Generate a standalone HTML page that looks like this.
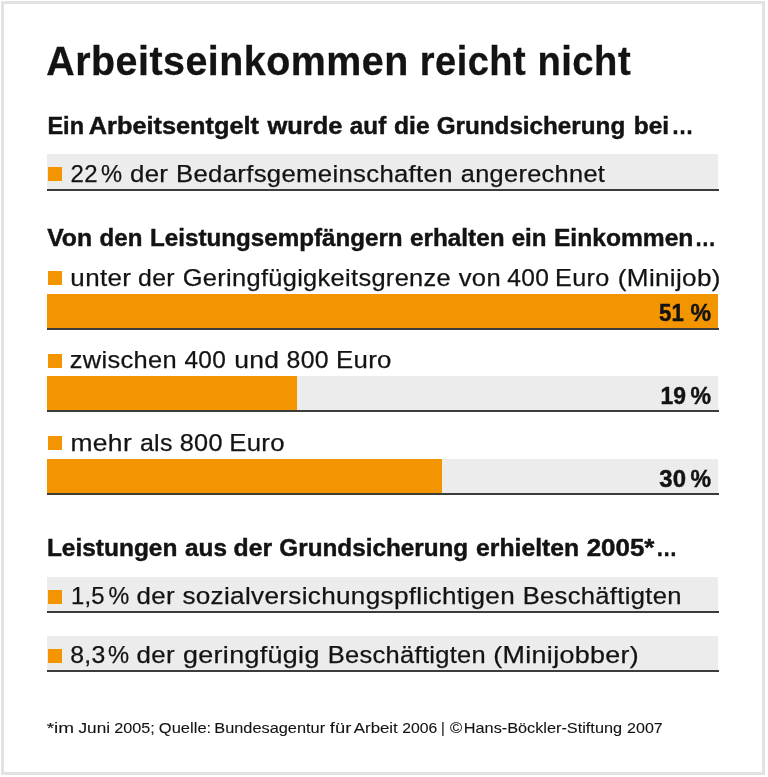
<!DOCTYPE html>
<html><head><meta charset="utf-8"><style>html,body{margin:0;padding:0;background:#fff;}body{width:768px;height:777px;overflow:hidden;}svg{display:block;will-change:transform;}text{font-family:"Liberation Sans",sans-serif;fill:#131313;color:#131313;}</style></head><body>

<svg width="768" height="777" viewBox="0 0 768 777">
<rect x="2.5" y="2.5" width="761" height="771" fill="none" stroke="#e3e3e3" stroke-width="3"/>
<rect x="47" y="154" width="671" height="35" fill="#ececec"/>
<rect x="47" y="189" width="672" height="2" fill="#3c3c3b"/>
<rect x="47" y="294" width="671" height="34" fill="#ececec"/>
<rect x="47" y="294" width="671" height="34" fill="#f39500"/>
<rect x="47" y="328" width="672" height="2" fill="#3c3c3b"/>
<rect x="47" y="376" width="671" height="34" fill="#ececec"/>
<rect x="47" y="376" width="250" height="34" fill="#f39500"/>
<rect x="47" y="410" width="672" height="2" fill="#3c3c3b"/>
<rect x="47" y="459" width="671" height="34" fill="#ececec"/>
<rect x="47" y="459" width="395" height="34" fill="#f39500"/>
<rect x="47" y="493" width="672" height="2" fill="#3c3c3b"/>
<rect x="47" y="577" width="671" height="34" fill="#ececec"/>
<rect x="47" y="611" width="672" height="2" fill="#3c3c3b"/>
<rect x="47" y="636" width="671" height="34" fill="#ececec"/>
<rect x="47" y="670" width="672" height="2" fill="#3c3c3b"/>
<rect x="48" y="167" width="14" height="14" fill="#f39500"/>
<rect x="48" y="271" width="14" height="14" fill="#f39500"/>
<rect x="48" y="354" width="14" height="14" fill="#f39500"/>
<rect x="48" y="436" width="14" height="14" fill="#f39500"/>
<rect x="48" y="590" width="14" height="14" fill="#f39500"/>
<rect x="48" y="649" width="14" height="14" fill="#f39500"/>
<text x="46.28" y="75.00" font-size="41" font-weight="bold" letter-spacing="0.5" stroke="currentColor" stroke-width="0.3" textLength="362.50" lengthAdjust="spacingAndGlyphs">Arbeitseinkommen</text>
<text x="419.82" y="75.00" font-size="41" font-weight="bold" letter-spacing="0.5" stroke="currentColor" stroke-width="0.3" textLength="106.25" lengthAdjust="spacingAndGlyphs">reicht</text>
<text x="537.49" y="75.00" font-size="41" font-weight="bold" letter-spacing="0.5" stroke="currentColor" stroke-width="0.3" textLength="93.59" lengthAdjust="spacingAndGlyphs">nicht</text>
<text x="47.46" y="133.80" font-size="24.5" font-weight="bold" stroke="currentColor" stroke-width="0.45" textLength="36.52" lengthAdjust="spacingAndGlyphs">Ein</text>
<text x="88.83" y="133.80" font-size="24.5" font-weight="bold" stroke="currentColor" stroke-width="0.45" textLength="170.11" lengthAdjust="spacingAndGlyphs">Arbeitsentgelt</text>
<text x="267.43" y="133.80" font-size="24.5" font-weight="bold" stroke="currentColor" stroke-width="0.45" textLength="75.03" lengthAdjust="spacingAndGlyphs">wurde</text>
<text x="349.87" y="133.80" font-size="24.5" font-weight="bold" stroke="currentColor" stroke-width="0.45" textLength="36.35" lengthAdjust="spacingAndGlyphs">auf</text>
<text x="393.97" y="133.80" font-size="24.5" font-weight="bold" stroke="currentColor" stroke-width="0.45" textLength="35.63" lengthAdjust="spacingAndGlyphs">die</text>
<text x="436.69" y="133.80" font-size="24.5" font-weight="bold" stroke="currentColor" stroke-width="0.45" textLength="188.51" lengthAdjust="spacingAndGlyphs">Grundsicherung</text>
<text x="633.75" y="133.80" font-size="24.5" font-weight="bold" stroke="currentColor" stroke-width="0.45" textLength="35.40" lengthAdjust="spacingAndGlyphs">bei</text>
<text x="671.46" y="133.80" font-size="24.5" font-weight="bold" stroke="currentColor" stroke-width="0.45" textLength="22.05" lengthAdjust="spacingAndGlyphs">…</text>
<text x="70.61" y="181.50" font-size="24.5" letter-spacing="0.3" stroke="currentColor" stroke-width="0.25" textLength="27.30" lengthAdjust="spacingAndGlyphs">22</text>
<text x="101.05" y="181.50" font-size="24.5" stroke="currentColor" stroke-width="0.25" textLength="21.08" lengthAdjust="spacingAndGlyphs">%</text>
<text x="129.96" y="181.50" font-size="24.5" letter-spacing="0.3" stroke="currentColor" stroke-width="0.25" textLength="38.31" lengthAdjust="spacingAndGlyphs">der</text>
<text x="176.02" y="181.50" font-size="24.5" letter-spacing="0.3" stroke="currentColor" stroke-width="0.25" textLength="276.76" lengthAdjust="spacingAndGlyphs">Bedarfsgemeinschaften</text>
<text x="460.74" y="181.50" font-size="24.5" letter-spacing="0.3" stroke="currentColor" stroke-width="0.25" textLength="144.45" lengthAdjust="spacingAndGlyphs">angerechnet</text>
<text x="47.21" y="246.00" font-size="24.5" font-weight="bold" stroke="currentColor" stroke-width="0.45" textLength="44.92" lengthAdjust="spacingAndGlyphs">Von</text>
<text x="99.59" y="246.00" font-size="24.5" font-weight="bold" stroke="currentColor" stroke-width="0.45" textLength="42.77" lengthAdjust="spacingAndGlyphs">den</text>
<text x="150.04" y="246.00" font-size="24.5" font-weight="bold" stroke="currentColor" stroke-width="0.45" textLength="252.54" lengthAdjust="spacingAndGlyphs">Leistungsempfängern</text>
<text x="410.09" y="246.00" font-size="24.5" font-weight="bold" stroke="currentColor" stroke-width="0.45" textLength="94.41" lengthAdjust="spacingAndGlyphs">erhalten</text>
<text x="511.68" y="246.00" font-size="24.5" font-weight="bold" stroke="currentColor" stroke-width="0.45" textLength="34.81" lengthAdjust="spacingAndGlyphs">ein</text>
<text x="553.93" y="246.00" font-size="24.5" font-weight="bold" stroke="currentColor" stroke-width="0.45" textLength="139.45" lengthAdjust="spacingAndGlyphs">Einkommen</text>
<text x="694.81" y="246.00" font-size="24.5" font-weight="bold" stroke="currentColor" stroke-width="0.45" textLength="21.26" lengthAdjust="spacingAndGlyphs">…</text>
<text x="70.39" y="285.50" font-size="24.5" letter-spacing="0.3" stroke="currentColor" stroke-width="0.25" textLength="60.81" lengthAdjust="spacingAndGlyphs">unter</text>
<text x="138.10" y="285.50" font-size="24.5" letter-spacing="0.3" stroke="currentColor" stroke-width="0.25" textLength="36.81" lengthAdjust="spacingAndGlyphs">der</text>
<text x="182.70" y="285.50" font-size="24.5" letter-spacing="0.3" stroke="currentColor" stroke-width="0.25" textLength="268.36" lengthAdjust="spacingAndGlyphs">Geringfügigkeitsgrenze</text>
<text x="458.75" y="285.50" font-size="24.5" letter-spacing="0.3" stroke="currentColor" stroke-width="0.25" textLength="42.20" lengthAdjust="spacingAndGlyphs">von</text>
<text x="507.26" y="285.50" font-size="24.5" letter-spacing="0.3" stroke="currentColor" stroke-width="0.25" textLength="41.82" lengthAdjust="spacingAndGlyphs">400</text>
<text x="555.06" y="285.50" font-size="24.5" letter-spacing="0.3" stroke="currentColor" stroke-width="0.25" textLength="54.47" lengthAdjust="spacingAndGlyphs">Euro</text>
<text x="617.85" y="285.50" font-size="24.5" letter-spacing="0.3" stroke="currentColor" stroke-width="0.25" textLength="102.87" lengthAdjust="spacingAndGlyphs">(Minijob)</text>
<text x="659.07" y="320.70" font-size="24.5" font-weight="bold" stroke="currentColor" stroke-width="0.45" textLength="24.75" lengthAdjust="spacingAndGlyphs">51</text>
<text x="690.51" y="320.70" font-size="24.5" font-weight="bold" stroke="currentColor" stroke-width="0.45" textLength="20.56" lengthAdjust="spacingAndGlyphs">%</text>
<text x="69.79" y="368.00" font-size="24.5" letter-spacing="0.3" stroke="currentColor" stroke-width="0.25" textLength="107.20" lengthAdjust="spacingAndGlyphs">zwischen</text>
<text x="184.46" y="368.00" font-size="24.5" letter-spacing="0.3" stroke="currentColor" stroke-width="0.25" textLength="41.67" lengthAdjust="spacingAndGlyphs">400</text>
<text x="234.24" y="368.00" font-size="24.5" letter-spacing="0.3" stroke="currentColor" stroke-width="0.25" textLength="45.19" lengthAdjust="spacingAndGlyphs">und</text>
<text x="286.64" y="368.00" font-size="24.5" letter-spacing="0.3" stroke="currentColor" stroke-width="0.25" textLength="42.30" lengthAdjust="spacingAndGlyphs">800</text>
<text x="336.02" y="368.00" font-size="24.5" letter-spacing="0.3" stroke="currentColor" stroke-width="0.25" textLength="55.76" lengthAdjust="spacingAndGlyphs">Euro</text>
<text x="660.45" y="403.50" font-size="24.5" font-weight="bold" stroke="currentColor" stroke-width="0.45" textLength="25.46" lengthAdjust="spacingAndGlyphs">19</text>
<text x="690.51" y="403.50" font-size="24.5" font-weight="bold" stroke="currentColor" stroke-width="0.45" textLength="20.56" lengthAdjust="spacingAndGlyphs">%</text>
<text x="70.49" y="450.80" font-size="24.5" letter-spacing="0.3" stroke="currentColor" stroke-width="0.25" textLength="61.54" lengthAdjust="spacingAndGlyphs">mehr</text>
<text x="139.94" y="450.80" font-size="24.5" letter-spacing="0.3" stroke="currentColor" stroke-width="0.25" textLength="32.82" lengthAdjust="spacingAndGlyphs">als</text>
<text x="179.74" y="450.80" font-size="24.5" letter-spacing="0.3" stroke="currentColor" stroke-width="0.25" textLength="43.09" lengthAdjust="spacingAndGlyphs">800</text>
<text x="229.22" y="450.80" font-size="24.5" letter-spacing="0.3" stroke="currentColor" stroke-width="0.25" textLength="55.68" lengthAdjust="spacingAndGlyphs">Euro</text>
<text x="659.37" y="486.50" font-size="24.5" font-weight="bold" stroke="currentColor" stroke-width="0.45" textLength="26.62" lengthAdjust="spacingAndGlyphs">30</text>
<text x="690.51" y="486.50" font-size="24.5" font-weight="bold" stroke="currentColor" stroke-width="0.45" textLength="20.56" lengthAdjust="spacingAndGlyphs">%</text>
<text x="46.90" y="556.20" font-size="24.5" font-weight="bold" stroke="currentColor" stroke-width="0.45" textLength="130.48" lengthAdjust="spacingAndGlyphs">Leistungen</text>
<text x="185.00" y="556.20" font-size="24.5" font-weight="bold" stroke="currentColor" stroke-width="0.45" textLength="41.93" lengthAdjust="spacingAndGlyphs">aus</text>
<text x="233.53" y="556.20" font-size="24.5" font-weight="bold" stroke="currentColor" stroke-width="0.45" textLength="38.52" lengthAdjust="spacingAndGlyphs">der</text>
<text x="279.33" y="556.20" font-size="24.5" font-weight="bold" stroke="currentColor" stroke-width="0.45" textLength="188.85" lengthAdjust="spacingAndGlyphs">Grundsicherung</text>
<text x="476.05" y="556.20" font-size="24.5" font-weight="bold" stroke="currentColor" stroke-width="0.45" textLength="103.12" lengthAdjust="spacingAndGlyphs">erhielten</text>
<text x="586.66" y="556.20" font-size="24.5" font-weight="bold" stroke="currentColor" stroke-width="0.45" textLength="67.80" lengthAdjust="spacingAndGlyphs">2005*</text>
<text x="656.06" y="556.20" font-size="24.5" font-weight="bold" stroke="currentColor" stroke-width="0.45" textLength="21.27" lengthAdjust="spacingAndGlyphs">…</text>
<text x="70.92" y="604.00" font-size="24.5" letter-spacing="0.3" stroke="currentColor" stroke-width="0.25" textLength="34.03" lengthAdjust="spacingAndGlyphs">1,5</text>
<text x="108.39" y="604.00" font-size="24.5" stroke="currentColor" stroke-width="0.25" textLength="20.74" lengthAdjust="spacingAndGlyphs">%</text>
<text x="136.58" y="604.00" font-size="24.5" letter-spacing="0.3" stroke="currentColor" stroke-width="0.25" textLength="38.32" lengthAdjust="spacingAndGlyphs">der</text>
<text x="182.40" y="604.00" font-size="24.5" letter-spacing="0.3" stroke="currentColor" stroke-width="0.25" textLength="332.62" lengthAdjust="spacingAndGlyphs">sozialversichungspflichtigen</text>
<text x="522.65" y="604.00" font-size="24.5" letter-spacing="0.3" stroke="currentColor" stroke-width="0.25" textLength="159.09" lengthAdjust="spacingAndGlyphs">Beschäftigten</text>
<text x="70.24" y="663.10" font-size="24.5" letter-spacing="0.3" stroke="currentColor" stroke-width="0.25" textLength="35.39" lengthAdjust="spacingAndGlyphs">8,3</text>
<text x="107.99" y="663.10" font-size="24.5" stroke="currentColor" stroke-width="0.25" textLength="21.09" lengthAdjust="spacingAndGlyphs">%</text>
<text x="136.58" y="663.10" font-size="24.5" letter-spacing="0.3" stroke="currentColor" stroke-width="0.25" textLength="38.32" lengthAdjust="spacingAndGlyphs">der</text>
<text x="182.96" y="663.10" font-size="24.5" letter-spacing="0.3" stroke="currentColor" stroke-width="0.25" textLength="136.77" lengthAdjust="spacingAndGlyphs">geringfügig</text>
<text x="327.68" y="663.10" font-size="24.5" letter-spacing="0.3" stroke="currentColor" stroke-width="0.25" textLength="158.40" lengthAdjust="spacingAndGlyphs">Beschäftigten</text>
<text x="493.36" y="663.10" font-size="24.5" letter-spacing="0.3" stroke="currentColor" stroke-width="0.25" textLength="145.63" lengthAdjust="spacingAndGlyphs">(Minijobber)</text>
<text x="46.74" y="732.90" font-size="14.5" stroke="currentColor" stroke-width="0.1" textLength="27.41" lengthAdjust="spacingAndGlyphs">*im</text>
<text x="78.54" y="732.90" font-size="14.5" stroke="currentColor" stroke-width="0.1" textLength="31.51" lengthAdjust="spacingAndGlyphs">Juni</text>
<text x="114.27" y="732.90" font-size="14.5" stroke="currentColor" stroke-width="0.1" textLength="40.52" lengthAdjust="spacingAndGlyphs">2005;</text>
<text x="158.86" y="732.90" font-size="14.5" stroke="currentColor" stroke-width="0.1" textLength="52.29" lengthAdjust="spacingAndGlyphs">Quelle:</text>
<text x="214.28" y="732.90" font-size="14.5" stroke="currentColor" stroke-width="0.1" textLength="110.86" lengthAdjust="spacingAndGlyphs">Bundesagentur</text>
<text x="329.89" y="732.90" font-size="14.5" stroke="currentColor" stroke-width="0.1" textLength="21.42" lengthAdjust="spacingAndGlyphs">für</text>
<text x="353.85" y="732.90" font-size="14.5" stroke="currentColor" stroke-width="0.1" textLength="43.93" lengthAdjust="spacingAndGlyphs">Arbeit</text>
<text x="402.19" y="732.90" font-size="14.5" stroke="currentColor" stroke-width="0.1" textLength="35.01" lengthAdjust="spacingAndGlyphs">2006</text>
<text x="440.92" y="732.90" font-size="14.5" stroke="currentColor" stroke-width="0.1">|</text>
<text x="449.96" y="732.90" font-size="14.5" stroke="currentColor" stroke-width="0.1" textLength="12.17" lengthAdjust="spacingAndGlyphs">©</text>
<text x="463.81" y="732.90" font-size="14.5" stroke="currentColor" stroke-width="0.1" textLength="158.24" lengthAdjust="spacingAndGlyphs">Hans-Böckler-Stiftung</text>
<text x="627.08" y="732.90" font-size="14.5" stroke="currentColor" stroke-width="0.1" textLength="35.66" lengthAdjust="spacingAndGlyphs">2007</text>
</svg></body></html>
